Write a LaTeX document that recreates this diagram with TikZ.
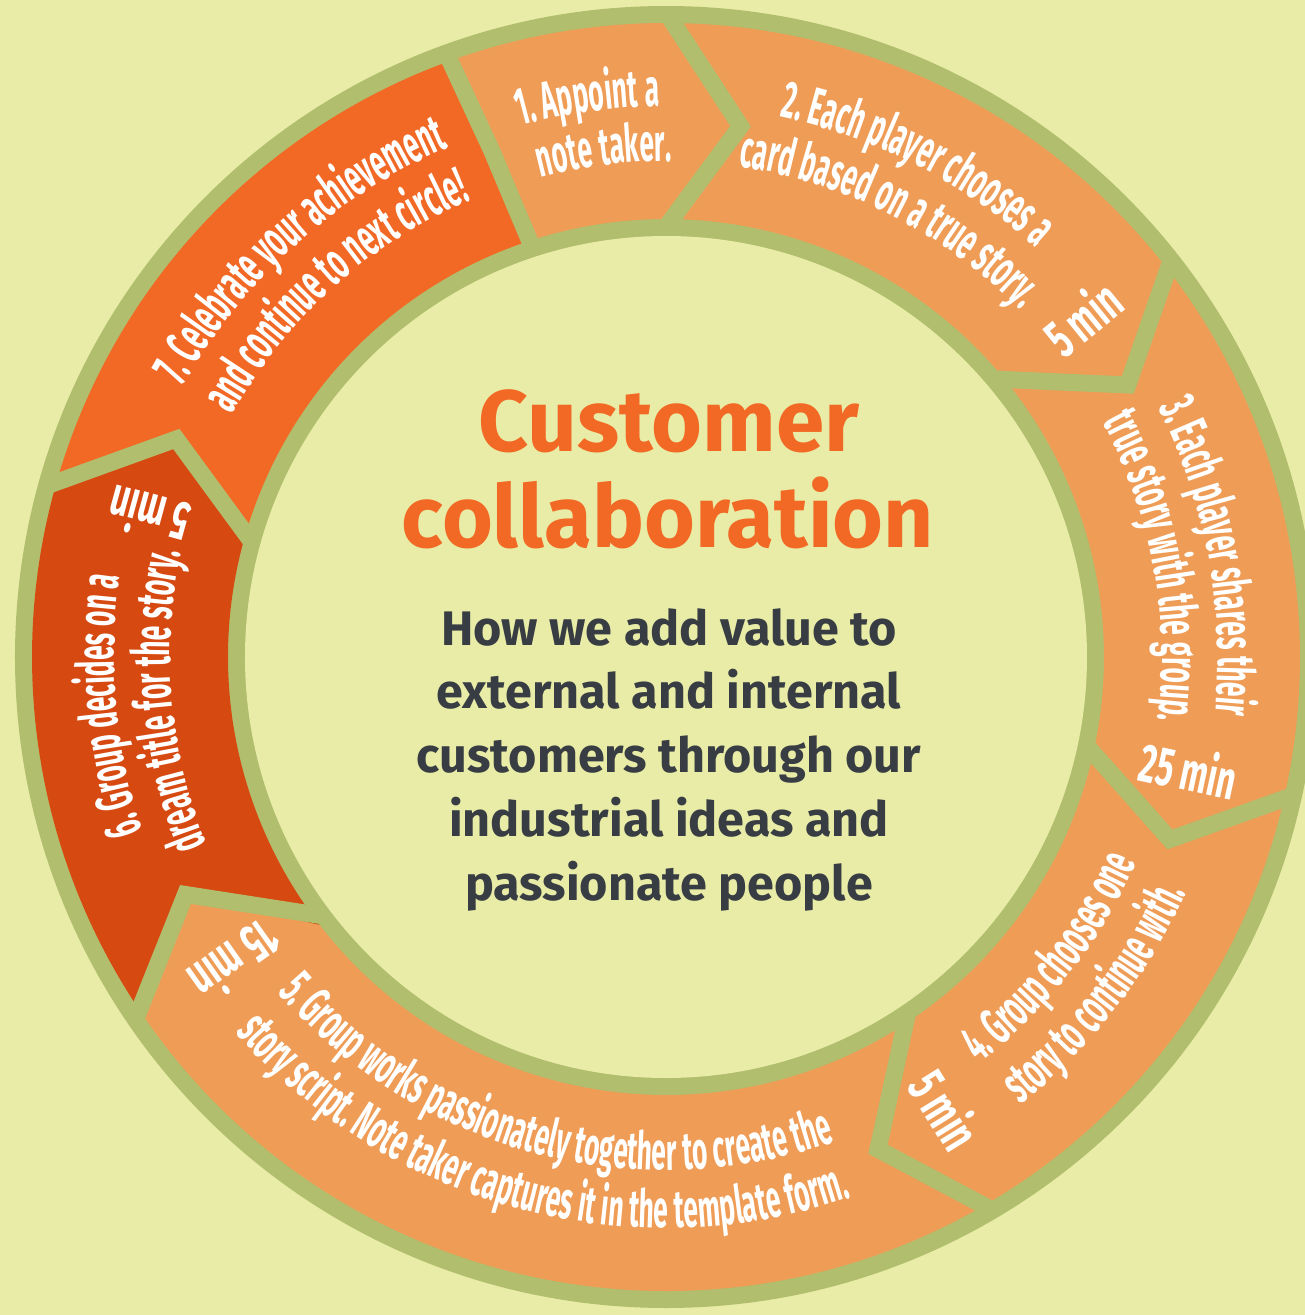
\documentclass[tikz,border=0pt]{standalone}
\usepackage{fontspec}
\setmainfont{Fira Sans}
\newfontfamily\segfont[FakeStretch=0.5]{Fira Sans}
\newfontfamily\minfont[FakeStretch=0.6]{Fira Sans}
\usetikzlibrary{decorations.text}

\definecolor{bgyellow}{HTML}{E9ECA6}
\definecolor{ringolive}{HTML}{B1BE6E}
\definecolor{steplight}{HTML}{EE9C56}
\definecolor{stepmid}{HTML}{F26825}
\definecolor{stepdark}{HTML}{D64A12}
\definecolor{titleorange}{HTML}{F26825}
\definecolor{subgray}{HTML}{373D43}

% one line of step text along an arc round the centre
\newcommand{\ringline}[4]{%
	\path[steptext={#4}] (#1:#3) arc[start angle=#1, end angle=#2, radius=#3];}

\begin{document}
\begin{tikzpicture}[line join=miter,
	gap/.style={draw=ringolive, line width=0.17cm},
	steptext/.style={decorate, decoration={text along path, text align=center,
			text color=white, text={|\segfont\bfseries\fontsize{15}{17}\selectfont|#1}}},
	mintext/.style={font=\minfont\bfseries\fontsize{15.5}{17}\selectfont, text=white, inner sep=0pt},
	titletext/.style={anchor=base, font=\bfseries\fontsize{24.8}{27}\selectfont, text=titleorange, inner sep=0pt},
	subtext/.style={anchor=base, font=\bfseries\fontsize{13.8}{16}\selectfont, text=subgray, inner sep=0pt}]
	
	% ---- page and ring ----
	\useasboundingbox (-6.66,-6.58) rectangle (6.39,6.57);
	\fill[bgyellow] (-6.66,-6.58) rectangle (6.39,6.57);
	\fill[ringolive] (0,0) circle (6.51);
	
	% ---- the seven steps (tail boundary / head boundary / colour) ----
	\foreach \tailo/\tailt/\taili/\heado/\headt/\headi/\col in {
		110/109/108/90/82/90.5/steplight,
		90/82/90.5/38.3/30.5/40.9/steplight,
		38.3/30.5/40.9/-12.3/-19.9/-11.4/steplight,
		-12.3/-19.9/-11.4/-59.3/-66.7/-55.1/steplight,
		-59.3/-66.7/-55.1/-145.5/-153.7/-142.3/steplight,
		-145.5/-153.7/-142.3/-195.3/-204/-195/stepdark,
		-195.3/-204/-195/-250/-251/-252/stepmid}{
		\fill[\col] (\tailo:6.34) arc[start angle=\tailo, end angle=\heado, radius=6.34]
		-- (\headt:5.36) -- (\headi:4.38)
		arc[start angle=\headi, end angle=\taili, radius=4.38]
		-- (\tailt:5.36) -- cycle;
	}
	
	% gaps between the steps
	\foreach \o/\t/\i in {110/109/108, 90/82/90.5, 38.3/30.5/40.9, -12.3/-19.9/-11.4,
		-59.3/-66.7/-55.1, -145.5/-153.7/-142.3, -195.3/-204/-195}{
		\draw[gap] (\o:6.45) -- (\t:5.36) -- (\i:4.25);
	}
	
	% inner disc
	\fill[bgyellow] (0,0) circle (4.21);
	
	% ---- step texts ----
	\ringline{128}{68}{5.51}{1. Appoint a}
	\ringline{127}{67}{4.96}{note taker.}
	\ringline{103}{23}{5.52}{2. Each player chooses a}
	\ringline{103}{23}{4.96}{card based on a true story.}
	\ringline{50.5}{-29.5}{5.52}{3. Each player shares their}
	\ringline{50.5}{-29.5}{4.96}{true story with the group.}
	\ringline{-78}{2}{5.13}{4. Group chooses one}
	\ringline{-78}{2}{5.71}{story to continue with.}
	\ringline{-155}{-55}{5.13}{5. Group works passionately together to create the}
	\ringline{-155}{-55}{5.71}{story script. Note taker captures it in the template form.}
	\ringline{225}{145}{5.52}{6. Group decides on a}
	\ringline{225}{145}{4.96}{dream title for the story.}
	\ringline{172}{92}{5.54}{7. Celebrate your achievement}
	\ringline{172}{92}{4.97}{and continue to next circle!}
	
	% durations
	\node[mintext, rotate=39.2] (min2) at (39.2:5.37) {5 min};
	\node[mintext, rotate=-12.1] (min3) at (-12.1:5.35) {25 min};
	\node[mintext, rotate=-58.2] (min4) at (-58.2:5.32) {5 min};
	\node[mintext, rotate=215.3] (min5) at (215.3:5.27) {15 min};
	\node[mintext, rotate=164.7] (min6) at (164.7:5.36) {5 min};
	
	% ---- centre texts ----
	\node[titletext] (title1) at (0.03,2.06) {Customer};
	\node[titletext] (title2) at (0.02,1.10) {collaboration};
	\foreach \txt [count=\k] in {How we add value to, external and internal,
		customers through our, industrial ideas and, passionate people}{
		\node[subtext] (sub\k) at (0.03,{0.12-0.6375*(\k-1)}) {\txt};
	}
	
\end{tikzpicture}
\end{document}
